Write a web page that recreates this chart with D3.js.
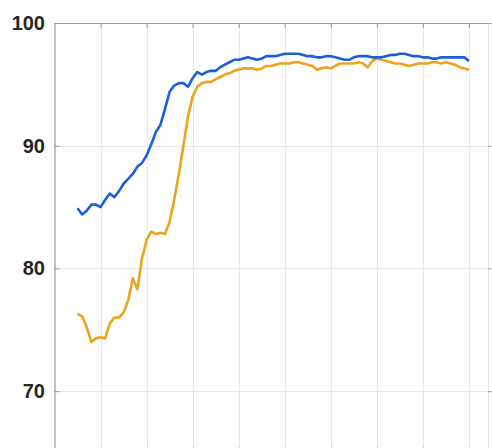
<!DOCTYPE html>
<html>
<head>
<meta charset="utf-8">
<script src="https://cdn.jsdelivr.net/npm/d3@7"></script>
<style>
  html, body { margin: 0; padding: 0; background: #fff; overflow: hidden; }
  svg { display: block; }
</style>
</head>
<body>
<svg id="chart" width="492" height="448"></svg>
<script>
// x positions (iteration index, same for both series)
const xValues = d3.range(5, 91); // 5..90
// blue series
const blueValues = [
  84.9, 84.4, 84.7, 85.2, 85.2, 85.0, 85.6, 86.1, 85.8, 86.3,
  86.9, 87.3, 87.7, 88.3, 88.6, 89.2, 90.1, 91.1, 91.7, 93.0,
  94.4, 94.9, 95.1, 95.1, 94.8, 95.5, 96.0, 95.8, 96.0, 96.1,
  96.1, 96.4, 96.6, 96.8, 97.0, 97.0, 97.1, 97.2, 97.1, 97.0,
  97.1, 97.3, 97.3, 97.3, 97.4, 97.5, 97.5, 97.5, 97.5, 97.4,
  97.3, 97.3, 97.2, 97.2, 97.3, 97.3, 97.2, 97.1, 97.0, 97.0,
  97.2, 97.3, 97.3, 97.3, 97.2, 97.2, 97.2, 97.3, 97.4, 97.4,
  97.5, 97.5, 97.4, 97.3, 97.3, 97.2, 97.2, 97.1, 97.1, 97.2,
  97.2, 97.2, 97.2, 97.2, 97.2, 96.9
];
// orange series
const orangeValues = [
  76.3, 76.1, 75.2, 74.0, 74.3, 74.4, 74.3, 75.5, 76.0, 76.0,
  76.4, 77.4, 79.2, 78.3, 80.8, 82.3, 83.0, 82.8, 82.9, 82.8,
  83.8, 85.6, 87.7, 90.0, 92.4, 94.0, 94.8, 95.1, 95.2, 95.2,
  95.4, 95.6, 95.8, 95.9, 96.1, 96.2, 96.3, 96.3, 96.3, 96.2,
  96.3, 96.5, 96.5, 96.6, 96.7, 96.7, 96.7, 96.8, 96.8, 96.7,
  96.6, 96.5, 96.2, 96.3, 96.4, 96.3, 96.5, 96.7, 96.7, 96.7,
  96.7, 96.8, 96.7, 96.4, 96.9, 97.1, 97.0, 96.9, 96.8, 96.7,
  96.7, 96.6, 96.5, 96.6, 96.7, 96.7, 96.7, 96.8, 96.8, 96.7,
  96.8, 96.7, 96.6, 96.4, 96.3, 96.2
];
const xTicks = [10, 20, 30, 40, 50, 60, 70, 80, 90];
const yTicks = [70, 80, 90, 100];
const yTickLabels = ["70", "80", "90", "100"];

const svg = d3.select("#chart");
const mLeft = 54.5, mRight = 488, mTop = 23, mBottom = 452.5;

const x = d3.scaleLinear().domain([0, 94.15]).range([mLeft, mRight]);
const y = d3.scaleLinear().domain([65, 100]).range([mBottom, mTop]);

// grid
const grid = svg.append("g");
grid.selectAll("line.vx").data(xTicks).join("line")
  .attr("x1", d => Math.round(x(d)) + 0.5).attr("x2", d => Math.round(x(d)) + 0.5)
  .attr("y1", mTop).attr("y2", mBottom)
  .attr("stroke", "#e8e8e8").attr("stroke-width", 1);
grid.selectAll("line.hy").data(yTicks).join("line")
  .attr("y1", d => Math.round(y(d)) + 0.5).attr("y2", d => Math.round(y(d)) + 0.5)
  .attr("x1", mLeft).attr("x2", mRight)
  .attr("stroke", "#e8e8e8").attr("stroke-width", 1);

// lines
const line = d3.line().x(d => x(d[0])).y(d => y(d[1]));
svg.append("path")
  .datum(xValues.map((v, i) => [v, orangeValues[i]]))
  .attr("d", line).attr("fill", "none")
  .attr("stroke", "#EBA41F").attr("stroke-width", 2.6).attr("stroke-linejoin", "round");
svg.append("path")
  .datum(xValues.map((v, i) => [v, blueValues[i]]))
  .attr("d", line).attr("fill", "none")
  .attr("stroke", "#1B5FD9").attr("stroke-width", 2.6).attr("stroke-linejoin", "round");

// axes box with inward ticks
const axisColor = "#9a9a9a";
const yAxisL = d3.axisLeft(y).tickValues(yTicks).tickSize(-5).tickFormat((d, i) => yTickLabels[i]).tickPadding(9.5);
const gL = svg.append("g").attr("transform", `translate(${mLeft},0)`).call(yAxisL);
gL.select(".domain").attr("stroke", axisColor).attr("stroke-width", 1.2);
gL.selectAll(".tick line").attr("stroke", axisColor);
gL.selectAll(".tick text")
  .attr("font-family", "'Liberation Sans', Arial, Helvetica, sans-serif")
  .attr("font-weight", "bold").attr("font-size", 20).attr("fill", "#262626");

const yAxisR = d3.axisRight(y).tickValues(yTicks).tickSize(4).tickSizeOuter(0).tickFormat("");
const gR = svg.append("g").attr("transform", `translate(${mRight},0)`).call(yAxisR);
gR.select(".domain").attr("stroke", "#e2e2e2");
gR.selectAll(".tick line").attr("stroke", "#a8a8a8");

const xAxisT = d3.axisTop(x).tickValues(xTicks).tickSize(-5).tickSizeOuter(0).tickFormat("");
const gT = svg.append("g").attr("transform", `translate(0,${mTop})`).call(xAxisT);
gT.select(".domain").attr("stroke", axisColor).attr("stroke-width", 1.2);
gT.selectAll(".tick line").attr("stroke", axisColor);

const xAxisB = d3.axisBottom(x).tickValues(xTicks).tickSize(-5).tickSizeOuter(0).tickFormat("");
const gB = svg.append("g").attr("transform", `translate(0,${mBottom})`).call(xAxisB);
gB.select(".domain").attr("stroke", axisColor);
gB.selectAll(".tick line").attr("stroke", axisColor);
</script>
</body>
</html>
